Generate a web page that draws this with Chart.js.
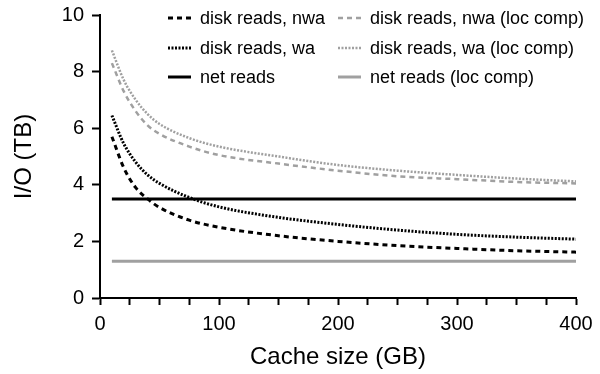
<!DOCTYPE html>
<html>
<head>
<meta charset="utf-8">
<script src="https://cdn.jsdelivr.net/npm/chart.js@4/dist/chart.umd.min.js"></script>
<style>
html,body{margin:0;padding:0;background:#fff;}
#wrap{width:600px;height:374px;}
</style>
</head>
<body>
<div id="wrap"><canvas id="c" width="600" height="374"></canvas></div>
<script>
const cacheSizes = [10, 20, 30, 40, 50, 75, 100, 150, 200, 250, 300, 350, 400];
const diskNwa     = [5.7, 4.6, 3.9, 3.5, 3.2, 2.75, 2.5, 2.2, 2.0, 1.85, 1.75, 1.67, 1.62];
const diskWa      = [6.45, 5.45, 4.8, 4.35, 4.05, 3.55, 3.22, 2.85, 2.6, 2.4, 2.25, 2.15, 2.08];
const diskNwaLoc  = [8.3, 7.3, 6.6, 6.1, 5.8, 5.35, 5.05, 4.75, 4.5, 4.3, 4.2, 4.1, 4.05];
const diskWaLoc   = [8.75, 7.7, 7.0, 6.5, 6.15, 5.65, 5.35, 5.0, 4.7, 4.5, 4.35, 4.22, 4.12];
const netReads    = [3.5, 3.5];
const netReadsLoc = [1.3, 1.3];
const netX        = [10, 400];
const xTicks = [0, 100, 200, 300, 400];
const yTicks = [0, 2, 4, 6, 8, 10];

const pts = (xs, ys) => xs.map((x, i) => ({x: x, y: ys[i]}));
const GREY = '#a0a0a0';
const FONT = 'Liberation Sans, Arial, sans-serif';

const datasets = [
  {label: 'disk reads, nwa', data: pts(cacheSizes, diskNwa), borderColor: '#000', borderWidth: 3, borderDash: [5, 4], col: 0, row: 0},
  {label: 'disk reads, wa', data: pts(cacheSizes, diskWa), borderColor: '#000', borderWidth: 3, borderDash: [2, 1.5], col: 0, row: 1},
  {label: 'net reads', data: pts(netX, netReads), borderColor: '#000', borderWidth: 3, borderDash: [], col: 0, row: 2},
  {label: 'disk reads, nwa (loc comp)', data: pts(cacheSizes, diskNwaLoc), borderColor: GREY, borderWidth: 2.5, borderDash: [5, 4], col: 1, row: 0},
  {label: 'disk reads, wa (loc comp)', data: pts(cacheSizes, diskWaLoc), borderColor: GREY, borderWidth: 2.5, borderDash: [2, 1.5], col: 1, row: 1},
  {label: 'net reads (loc comp)', data: pts(netX, netReadsLoc), borderColor: GREY, borderWidth: 3, borderDash: [], col: 1, row: 2}
];
datasets.forEach(d => { d.pointRadius = 0; d.fill = false; d.cubicInterpolationMode = 'monotone'; d.tension = 0.4; });

const legendPlugin = {
  id: 'gridLegend',
  afterDraw(chart) {
    const ctx = chart.ctx;
    const colX = [200, 370];
    const rowY = [18, 48, 77];
    ctx.save();
    ctx.font = '18px ' + FONT;
    ctx.textBaseline = 'middle';
    ctx.fillStyle = '#000';
    chart.data.datasets.forEach(d => {
      const x = colX[d.col], y = rowY[d.row];
      ctx.beginPath();
      ctx.strokeStyle = d.borderColor;
      ctx.lineWidth = d.borderWidth;
      ctx.setLineDash(d.borderDash);
      ctx.moveTo(x - 32, y);
      ctx.lineTo(x - 9, y);
      ctx.stroke();
      ctx.setLineDash([]);
      ctx.fillText(d.label, x, y + 1);
    });
    ctx.restore();
  }
};

new Chart(document.getElementById('c'), {
  type: 'line',
  data: {datasets: datasets},
  plugins: [legendPlugin],
  options: {
    responsive: false,
    animation: false,
    layout: {padding: {top: 15, right: 24, left: 0, bottom: 0}},
    plugins: {legend: {display: false}, tooltip: {enabled: false}},
    scales: {
      x: {
        type: 'linear', min: 0, max: 400,
        afterFit: s => { s.height = 76; },
        title: {display: true, text: 'Cache size (GB)', color: '#000', font: {family: FONT, size: 24, lineHeight: 1}, padding: {top: 0, bottom: 5}},
        ticks: {stepSize: 25, color: '#000', font: {family: FONT, size: 20}, padding: 7,
                callback: v => (xTicks.includes(v) ? String(v) : ''), autoSkip: false, maxRotation: 0},
        grid: {drawOnChartArea: false, drawTicks: true, tickLength: 7, tickWidth: 2, tickColor: '#000'},
        border: {display: true, color: '#000', width: 2}
      },
      y: {
        min: 0, max: 10,
        afterFit: s => { s.width = 100; s.paddingTop = 0; s.paddingBottom = 0; },
        title: {display: true, text: 'I/O (TB)', color: '#000', font: {family: FONT, size: 24, lineHeight: 1}, padding: {top: 12, bottom: 0}},
        ticks: {stepSize: 2, color: '#000', font: {family: FONT, size: 20}, padding: 8,
                callback: v => (yTicks.includes(v) ? String(v) : '')},
        grid: {drawOnChartArea: false, drawTicks: true, tickLength: 8, tickWidth: 2, tickColor: '#000'},
        border: {display: true, color: '#000', width: 2}
      }
    }
  }
});
</script>
</body>
</html>
